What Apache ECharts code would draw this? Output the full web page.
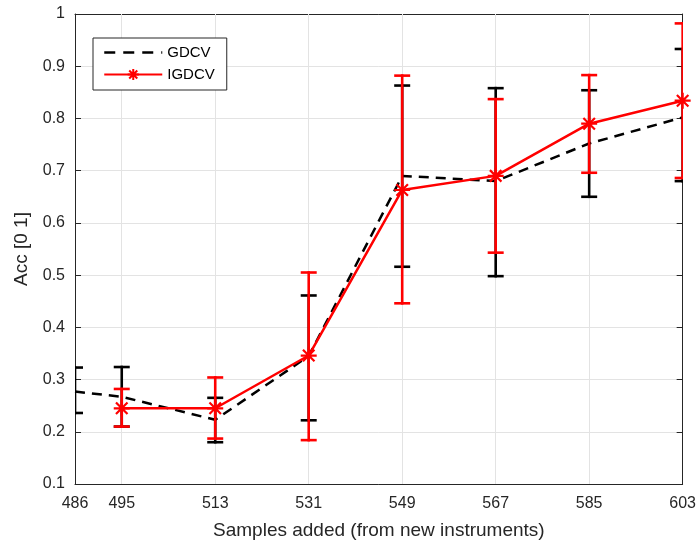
<!DOCTYPE html>
<html>
<head>
<meta charset="utf-8">
<script src="https://cdn.jsdelivr.net/npm/echarts@6/dist/echarts.min.js"></script>
<style>html,body{margin:0;padding:0;background:#fff}#c{width:699px;height:546px}</style>
</head>
<body>
<div id="c"></div>
<script>
var xTicks = [486, 495, 513, 531, 549, 567, 585, 603];
var gdcvX = [486, 495, 513, 531, 549, 567, 585, 603];
var gdcvMean = [0.277, 0.267, 0.223, 0.345, 0.690, 0.680, 0.752, 0.802];
var gdcvLow = [0.236, 0.210, 0.180, 0.222, 0.516, 0.498, 0.650, 0.680];
var gdcvHigh = [0.323, 0.324, 0.265, 0.461, 0.863, 0.858, 0.854, 0.933];
var igdcvX = [495, 513, 531, 549, 567, 585, 603];
var igdcvMean = [0.245, 0.245, 0.346, 0.663, 0.690, 0.790, 0.834];
var igdcvLow = [0.210, 0.187, 0.184, 0.446, 0.543, 0.696, 0.686];
var igdcvHigh = [0.282, 0.304, 0.505, 0.882, 0.837, 0.883, 0.982];

var FONT = 'Liberation Sans, Arial, sans-serif';
var AX = '#262626';
var GRID = '#e3e3e3';
var star = 'path://M0,-1L0,1M-1,0L1,0M-0.72,-0.72L0.72,0.72M-0.72,0.72L0.72,-0.72';

function zip(x, y) { return x.map(function (v, i) { return [v, y[i]]; }); }
function bars(x, lo, hi) { return x.map(function (v, i) { return [v, lo[i], hi[i]]; }); }
function errRender(color) {
  return function (params, api) {
    var x = api.value(0);
    var lo = api.coord([x, api.value(1)]);
    var hi = api.coord([x, api.value(2)]);
    var hw = 8, lw = 2.6;
    var st = { fill: color };
    return {
      type: 'group',
      children: [
        { type: 'rect', shape: { x: lo[0] - lw / 2, y: hi[1] - lw / 2, width: lw, height: lo[1] - hi[1] + lw }, style: st },
        { type: 'rect', shape: { x: lo[0] - hw, y: lo[1] - lw / 2, width: 2 * hw, height: lw }, style: st },
        { type: 'rect', shape: { x: hi[0] - hw, y: hi[1] - lw / 2, width: 2 * hw, height: lw }, style: st }
      ]
    };
  };
}

var chart = echarts.init(document.getElementById('c'));
var xAxisBase = {
  type: 'value', min: 486, max: 603,
  axisLine: { show: true, onZero: false, lineStyle: { color: AX, width: 1 } },
  splitLine: { show: false }
};
var yAxisBase = {
  type: 'value', min: 0.1, max: 1, interval: 0.1,
  axisLine: { show: true, onZero: false, lineStyle: { color: AX, width: 1 } },
  axisTick: { show: true, inside: true, length: 6, lineStyle: { color: AX } },
  splitLine: { show: true, lineStyle: { color: GRID, width: 1 } }
};
chart.setOption({
  animation: false,
  backgroundColor: '#fff',
  textStyle: { fontFamily: FONT },
  grid: { left: 75, right: 16, top: 14, bottom: 62 },
  legend: {
    orient: 'vertical', left: 93, top: 38,
    padding: [7, 12, 8, 10], itemGap: 7, itemWidth: 58, itemHeight: 14,
    borderColor: AX, borderWidth: 1, backgroundColor: '#fff', borderRadius: 0,
    textStyle: { fontFamily: FONT, fontSize: 15, color: '#000' },
    data: [
      { name: 'GDCV', itemStyle: { opacity: 0 }, lineStyle: { width: 2.5, type: [11, 8] } },
      { name: 'IGDCV' }
    ]
  },
  xAxis: [
    Object.assign({}, xAxisBase, {
      position: 'bottom',
      name: 'Samples added (from new instruments)', nameLocation: 'middle', nameGap: 37,
      nameTextStyle: { fontFamily: FONT, fontSize: 19, color: '#262626' },
      axisTick: { show: true, inside: true, length: 6, customValues: xTicks, lineStyle: { color: AX } },
      axisLabel: { customValues: xTicks, margin: 12, fontFamily: FONT, fontSize: 16, color: '#262626' }
    }),
    Object.assign({}, xAxisBase, {
      position: 'top',
      axisTick: { show: true, inside: true, length: 6, customValues: xTicks, lineStyle: { color: AX } },
      axisLabel: { show: false }
    })
  ],
  yAxis: [
    Object.assign({}, yAxisBase, {
      position: 'left',
      name: 'Acc [0 1]', nameLocation: 'middle', nameGap: 44, nameRotate: 90,
      nameTextStyle: { fontFamily: FONT, fontSize: 19, color: '#262626' },
      axisLabel: { margin: 10, fontFamily: FONT, fontSize: 16, color: '#262626',
        formatter: function (v) { return String(+v.toFixed(1)); } }
    }),
    Object.assign({}, yAxisBase, {
      position: 'right',
      splitLine: { show: false },
      axisLabel: { show: false }
    })
  ],
  series: [
    {
      name: 'grid', type: 'line', data: [], silent: true, z: 1,
      markLine: {
        silent: true, symbol: 'none', label: { show: false }, z: 1,
        lineStyle: { color: GRID, width: 1, type: 'solid' },
        data: xTicks.slice(1, -1).map(function (v) { return { xAxis: v }; })
      }
    },
    {
      name: 'GDCV', type: 'line', data: zip(gdcvX, gdcvMean), z: 3,
      showSymbol: false, symbol: 'none',
      lineStyle: { color: '#000', width: 2.5, type: [10, 7] },
      itemStyle: { color: '#000' }
    },
    {
      name: 'GDCV-err', type: 'custom', data: bars(gdcvX, gdcvLow, gdcvHigh), z: 3, clip: true,
      renderItem: errRender('#000'), encode: { x: 0, y: [1, 2] }
    },
    {
      name: 'IGDCV-err', type: 'custom', data: bars(igdcvX, igdcvLow, igdcvHigh), z: 4, clip: true,
      renderItem: errRender('#ff0000'), encode: { x: 0, y: [1, 2] }
    },
    {
      name: 'IGDCV', type: 'line', data: zip(igdcvX, igdcvMean), z: 5,
      symbol: star, symbolSize: 16, showSymbol: true,
      lineStyle: { color: '#ff0000', width: 2.5 },
      itemStyle: { color: '#ff0000', borderColor: '#ff0000', borderWidth: 2.2 }
    }
  ]
});
</script>
</body>
</html>
